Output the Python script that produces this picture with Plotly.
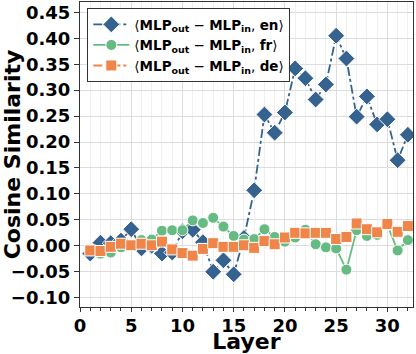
import plotly.graph_objects as go

layers = list(range(1, 33))
en = [-0.015, 0.006, 0.005, 0.010, 0.032, -0.005, 0.000, -0.015, -0.013, 0.028,
      0.031, 0.007, -0.050, -0.028, -0.055, 0.015, 0.107, 0.253, 0.218, 0.257,
      0.342, 0.323, 0.282, 0.311, 0.405, 0.361, 0.249, 0.288, 0.234, 0.244,
      0.165, 0.214]
fr = [-0.008, -0.015, -0.013, -0.003, 0.002, 0.011, 0.012, 0.029, 0.030, 0.030,
      0.049, 0.044, 0.054, 0.037, 0.019, 0.012, 0.013, 0.032, 0.017, 0.008,
      0.016, 0.031, 0.003, -0.003, -0.005, -0.046, 0.030, 0.019, 0.021, 0.040,
      -0.009, 0.011]
de = [-0.009, -0.010, -0.002, 0.004, 0.001, 0.004, 0.001, 0.008, -0.007, -0.014,
      -0.019, -0.006, 0.005, -0.002, -0.002, 0.001, -0.004, 0.009, 0.003, 0.016,
      0.025, 0.024, 0.025, 0.025, 0.013, 0.017, 0.043, 0.032, 0.026, 0.042,
      0.027, 0.038]
names = ["⟨<b>MLP<sub>out</sub></b> − <b>MLP<sub>in</sub></b>, <b>en</b>⟩",
         "⟨<b>MLP<sub>out</sub></b> − <b>MLP<sub>in</sub></b>, <b>fr</b>⟩",
         "⟨<b>MLP<sub>out</sub></b> − <b>MLP<sub>in</sub></b>, <b>de</b>⟩"]

fig = go.Figure()
styles = [
    (en, "#35628f", "diamond", "dashdot", 13),
    (fr, "#66bb83", "circle", "solid", 11),
    (de, "#ef8548", "square", "dashdot", 11),
]
for (vals, color, sym, dash, size), name in zip(styles, names):
    fig.add_trace(go.Scatter(
        x=layers, y=vals, mode="lines+markers", name=name,
        line=dict(color=color, width=1.8, dash=dash),
        marker=dict(symbol=sym, size=size, color=color,
                    line=dict(color="white", width=1)),
    ))

font_family = "DejaVu Sans"
fig.update_layout(
    width=416, height=354,
    margin=dict(l=80, r=3, t=2, b=47),
    paper_bgcolor="white", plot_bgcolor="white",
    font=dict(family=font_family, color="black"),
    legend=dict(x=0.022, y=0.98, xanchor="left", yanchor="top",
                bgcolor="rgba(255,255,255,0.9)", bordercolor="#333333",
                borderwidth=1, font=dict(size=13.5, family=font_family),
                tracegroupgap=0, itemwidth=36),
    xaxis=dict(
        range=[0, 32.5], tickvals=[0, 5, 10, 15, 20, 25, 30],
        ticks="outside", ticklen=4, tickwidth=1.2, tickcolor="#333",
        ticklabelstandoff=-2,
        tickfont=dict(size=18, family=font_family, weight="bold"),
        title=dict(text="<b>Layer</b>", font=dict(size=22), standoff=3),
        showgrid=True, gridcolor="#dddddd", gridwidth=1,
        minor=dict(dtick=1, ticks="outside", ticklen=3, tickcolor="#333",
                   showgrid=True, gridcolor="#f0f0f0", gridwidth=1),
        showline=True, linecolor="#333", linewidth=1.2, mirror=True,
        zeroline=False, automargin=False,
    ),
    yaxis=dict(
        range=[-0.118, 0.47], dtick=0.05, tickformat=".2f",
        ticks="outside", ticklen=5, tickwidth=1.2, tickcolor="#333",
        tickfont=dict(size=18, family=font_family, weight="bold"),
        title=dict(text="<b>Cosine Similarity</b>", font=dict(size=22), standoff=2),
        showgrid=True, gridcolor="#dddddd", gridwidth=1,
        showline=True, linecolor="#333", linewidth=1.2, mirror=True,
        zeroline=False, automargin=False,
    ),
)
fig.write_html("out.html", config={"displayModeBar": False},
               post_script="document.body.style.margin='0';")
